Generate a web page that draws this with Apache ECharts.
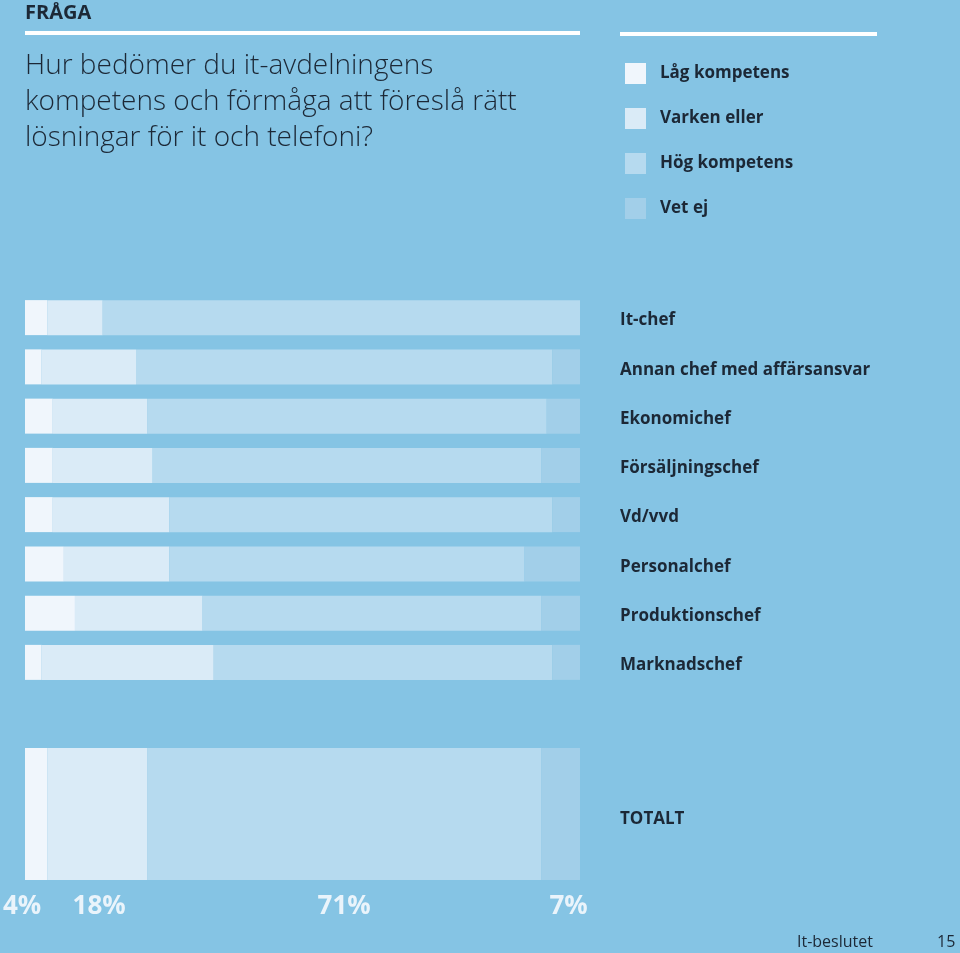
<!DOCTYPE html>
<html><head><meta charset="utf-8">
<script src="https://cdn.jsdelivr.net/npm/echarts@6/dist/echarts.min.js"></script>
<style>html,body{margin:0;padding:0;background:#85c4e4;}#c{width:960px;height:953px;}</style>
</head><body><div id="c"></div>
<script>
const categories = ['It-chef','Annan chef med affärsansvar','Ekonomichef','Försäljningschef','Vd/vvd','Personalchef','Produktionschef','Marknadschef'];
const seriesNames = ['Låg kompetens','Varken eller','Hög kompetens','Vet ej'];
const lag    = [4, 3, 5, 5, 5, 7, 9, 3];
const varken = [10, 17, 17, 18, 21, 19, 23, 31];
const hog    = [86, 75, 72, 70, 69, 64, 61, 61];
const vetej  = [0, 5, 6, 7, 5, 10, 7, 5];
const totalCategory = ['TOTALT'];
const totalValues = [4, 18, 71, 7];

const colors = ['#f0f6fc','#daebf7','#b6daef','#a2cfe9'];
const dark = '#1c2836';
const font = "'Open Sans', sans-serif";
const groups = [lag, varken, hog, vetej];
const labelOffsets = [[-14,0],[2,0],[0,0],[8,0]];

const series = [];
seriesNames.forEach((n,i)=>{
  series.push({name:n,type:'bar',stack:'a',xAxisIndex:0,yAxisIndex:0,barWidth:35,
    itemStyle:{color:colors[i]},data:groups[i],silent:true});
});
seriesNames.forEach((n,i)=>{
  series.push({name:n,type:'bar',stack:'t',xAxisIndex:1,yAxisIndex:1,barWidth:132,
    itemStyle:{color:colors[i]},data:[totalValues[i]],silent:true,
    label:{show:true,position:'bottom',distance:14,offset:labelOffsets[i],formatter:'{c}%',
      color:'#eaf4fb',fontSize:26,fontWeight:'bold',fontFamily:font}});
});

const labStyle = {color:dark,fontSize:17,fontWeight:'bold',fontFamily:font};

const chart = echarts.init(document.getElementById('c'));
chart.setOption({
  backgroundColor:'#85c4e4',
  animation:false,
  title:[
    {text:'FRÅGA',left:20,top:-2,textStyle:{color:dark,fontSize:20,fontWeight:'bold',fontFamily:font}},
    {text:'Hur bedömer du it-avdelningens\nkompetens och förmåga att föreslå rätt\nlösningar för it och telefoni?',left:20,top:43,
      textStyle:{color:dark,fontSize:28,fontWeight:300,fontFamily:font,lineHeight:36}}
  ],
  legend:{orient:'vertical',left:620,top:58,itemWidth:21,itemHeight:21,itemGap:24,icon:'rect',
    data:seriesNames,selectedMode:false,
    textStyle:{color:dark,fontSize:17,fontWeight:'bold',fontFamily:font,padding:[0,0,0,9]}},
  grid:[
    {left:25,top:293,width:555,height:394},
    {left:25,top:748,width:555,height:132}
  ],
  xAxis:[
    {type:'value',gridIndex:0,min:0,max:100,show:false},
    {type:'value',gridIndex:1,min:0,max:100,show:false}
  ],
  yAxis:[
    {type:'category',gridIndex:0,data:categories,inverse:true,position:'right',
      axisLine:{show:false},axisTick:{show:false},
      axisLabel:{margin:40,align:'left',formatter:'{a|{value}}',
        rich:{a:Object.assign({padding:[6,0,0,0]},labStyle)}}},
    {type:'category',gridIndex:1,data:totalCategory,position:'right',
      axisLine:{show:false},axisTick:{show:false},
      axisLabel:{margin:40,align:'left',formatter:'{a|{value}}',
        rich:{a:Object.assign({padding:[10,0,0,0]},labStyle)}}}
  ],
  series:series,
  graphic:[
    {type:'rect',shape:{x:25,y:31,width:555,height:4},style:{fill:'#ffffff'}},
    {type:'rect',shape:{x:620,y:32,width:257,height:4},style:{fill:'#ffffff'}},
    {type:'text',left:797,top:934,style:{text:'It-beslutet',fill:dark,fontSize:16,fontFamily:font}},
    {type:'text',left:937,top:934,style:{text:'15',fill:dark,fontSize:16,fontFamily:font}}
  ]
});
</script></body></html>
